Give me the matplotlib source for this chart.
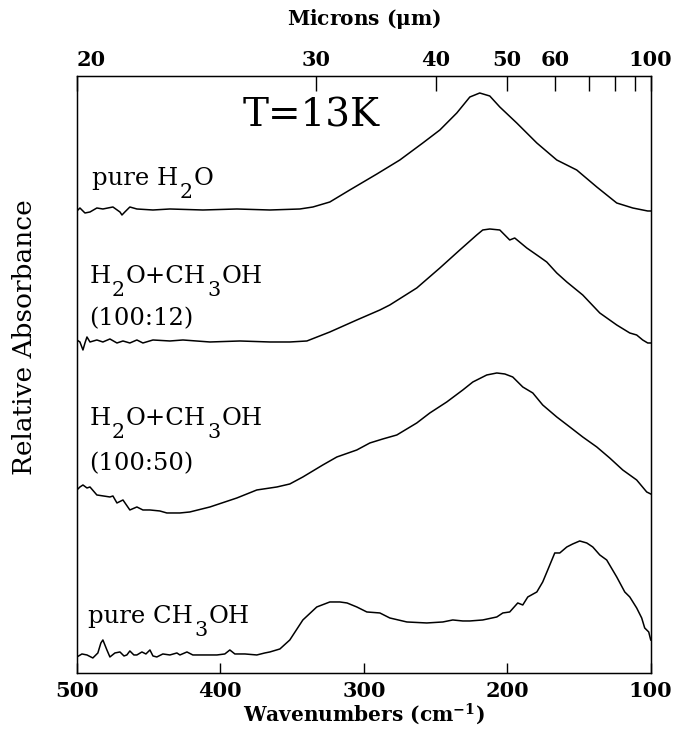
import matplotlib
matplotlib.use("Agg")
import matplotlib.pyplot as plt
from matplotlib.transforms import offset_copy

# ---------------- data ----------------
# wavenumbers (cm^-1) and stacked relative absorbance (arbitrary units)
wn_h2o = [500, 497.9, 494.4, 490.9, 486.1, 481.9, 474.9, 470.0, 468.6, 466.6, 463.1,
          458.2, 447.0, 435.2, 412.2, 388.5, 365.5, 344.6, 335.5, 323.7, 309.8,
          290.9, 274.9, 258.9, 247.0, 235.2, 226.1, 219.2, 212.2, 205.2, 193.4,
          179.4, 165.5, 151.6, 137.6, 123.7, 112.5, 102.1, 100]
ab_h2o = [4.62, 4.65, 4.60, 4.61, 4.65, 4.64, 4.66, 4.61, 4.58, 4.61, 4.66,
          4.64, 4.63, 4.64, 4.63, 4.64, 4.63, 4.64, 4.66, 4.71, 4.83,
          4.99, 5.13, 5.30, 5.43, 5.60, 5.76, 5.80, 5.77, 5.66, 5.50,
          5.30, 5.13, 5.03, 4.86, 4.70, 4.65, 4.62, 4.62]

wn_mix12 = [500, 497.9, 495.8, 494.4, 493.0, 490.9, 486.1, 481.9, 477.0, 472.1,
            467.9, 463.1, 458.2, 454.0, 447.0, 435.2, 426.1, 407.3, 386.4, 365.5,
            351.6, 339.7, 323.7, 304.9, 288.8, 281.9, 263.1, 247.0, 233.1, 221.3,
            217.1, 212.2, 205.2, 198.3, 194.8, 186.4, 177.4, 172.5, 165.5, 158.5,
            147.4, 135.5, 123.7, 114.6, 109.8, 105.6, 102.1, 100]
ab_mix12 = [3.33, 3.31, 3.23, 3.30, 3.36, 3.31, 3.33, 3.31, 3.34, 3.30,
            3.32, 3.30, 3.33, 3.30, 3.33, 3.32, 3.33, 3.31, 3.32, 3.31,
            3.31, 3.32, 3.41, 3.53, 3.63, 3.68, 3.85, 4.05, 4.23, 4.38,
            4.43, 4.44, 4.43, 4.33, 4.35, 4.25, 4.16, 4.11, 4.00, 3.91,
            3.78, 3.60, 3.48, 3.40, 3.38, 3.33, 3.30, 3.30]

wn_mix50 = [500, 497.9, 495.8, 493.0, 490.9, 486.1, 477.0, 474.9, 472.1, 467.9,
            463.1, 458.2, 454.0, 449.1, 442.2, 437.3, 428.2, 421.3, 407.3, 388.5,
            374.6, 360.6, 351.6, 342.5, 328.6, 318.8, 304.9, 295.8, 286.8, 277.0,
            263.1, 254.0, 242.2, 231.0, 224.0, 214.3, 207.3, 201.7, 196.2, 189.2,
            182.2, 175.3, 165.5, 156.4, 147.4, 137.6, 128.6, 119.5, 109.8, 102.8, 100]
ab_mix50 = [1.83, 1.86, 1.88, 1.85, 1.86, 1.78, 1.76, 1.77, 1.70, 1.73,
            1.63, 1.66, 1.63, 1.63, 1.62, 1.60, 1.60, 1.61, 1.66, 1.75,
            1.83, 1.86, 1.89, 1.96, 2.08, 2.16, 2.23, 2.30, 2.34, 2.38,
            2.50, 2.60, 2.71, 2.83, 2.91, 2.98, 3.00, 2.99, 2.96, 2.86,
            2.80, 2.68, 2.56, 2.46, 2.36, 2.26, 2.15, 2.03, 1.93, 1.81, 1.79]

wn_meoh = [500, 496.5, 493.0, 488.9, 485.4, 483.3, 481.9, 480.5, 479.1, 477.0,
           473.5, 470.0, 467.2, 465.2, 463.1, 460.3, 458.2, 454.7, 451.9, 449.1,
           447.0, 444.3, 440.1, 435.2, 430.3, 428.2, 423.3, 419.2, 412.2, 402.4,
           396.9, 393.4, 389.9, 382.9, 374.6, 369.0, 365.5, 358.5, 351.6, 342.5,
           332.8, 323.7, 316.7, 311.7, 304.9, 297.9, 288.8, 281.9, 270.0, 256.1,
           244.9, 238.0, 231.0, 226.1, 217.1, 207.3, 203.1, 198.3, 192.7, 189.2,
           185.7, 179.4, 175.3, 171.8, 166.9, 163.4, 158.5, 154.4, 149.5, 144.6,
           140.4, 135.5, 130.7, 123.7, 118.1, 114.6, 109.8, 106.3, 104.2, 102.8,
           101.4, 100]
ab_meoh = [0.16, 0.19, 0.18, 0.15, 0.20, 0.30, 0.33, 0.28, 0.23, 0.16,
           0.20, 0.21, 0.17, 0.18, 0.22, 0.18, 0.18, 0.21, 0.19, 0.23,
           0.17, 0.16, 0.19, 0.18, 0.20, 0.18, 0.21, 0.18, 0.18, 0.18,
           0.19, 0.23, 0.19, 0.19, 0.18, 0.20, 0.21, 0.24, 0.33, 0.53,
           0.66, 0.71, 0.71, 0.70, 0.66, 0.61, 0.60, 0.55, 0.51, 0.50,
           0.51, 0.53, 0.52, 0.52, 0.53, 0.56, 0.60, 0.61, 0.70, 0.68,
           0.76, 0.81, 0.91, 1.03, 1.20, 1.20, 1.26, 1.29, 1.32, 1.30,
           1.26, 1.18, 1.13, 0.96, 0.81, 0.76, 0.65, 0.55, 0.45, 0.43,
           0.41, 0.33]

bottom_ticks = [500, 400, 300, 200, 100]
micron_ticks = [20, 30, 40, 50, 60, 70, 80, 90, 100]
micron_labels = ["20", "30", "40", "50", "60", "", "", "", "100"]

# ---------------- figure ----------------
plt.rcParams["mathtext.fontset"] = "dejavuserif"
fig = plt.figure(figsize=(6.93, 7.35), dpi=100)
ax = fig.add_axes([0.111, 0.0844, 0.828, 0.8122])

for wn, ab in [(wn_h2o, ab_h2o), (wn_mix12, ab_mix12),
               (wn_mix50, ab_mix50), (wn_meoh, ab_meoh)]:
    ax.plot(wn, ab, color="black", lw=1.1)

ax.set_xlim(500, 100)
ax.set_ylim(0, 5.97)
ax.set_yticks([])
ax.set_xticks(bottom_ticks)
ax.set_xticklabels([str(t) for t in bottom_ticks], fontfamily="DejaVu Serif",
                   fontweight="bold", fontsize=15)
ax.tick_params(axis="x", direction="in", length=7, width=1.0, pad=6)
for s in ax.spines.values():
    s.set_linewidth(1.0)

ax.set_xlabel(r"Wavenumbers (cm$^{\mathbf{-1}}$)", fontfamily="DejaVu Serif",
              fontweight="bold", fontsize=14.5, labelpad=0)
fig.text(25 / 693, 1 - 337 / 735, "Relative Absorbance", rotation=90,
         fontfamily="DejaVu Serif", fontsize=19, ha="center", va="center")

ax2 = ax.twiny()
ax2.set_xlim(ax.get_xlim())
ax2.set_xticks([10000.0 / m for m in micron_ticks])
ax2.set_xticklabels(micron_labels, fontfamily="DejaVu Serif",
                    fontweight="bold", fontsize=15)
ax2.tick_params(axis="x", direction="in", length=11, width=1.0, pad=4)
ax2.get_xticklabels()[0].set_horizontalalignment("left")
ax2.set_xlabel(r"Microns ($\mathbf{\mu}$m)", fontfamily="DejaVu Serif",
               fontweight="bold", fontsize=14.5, labelpad=18)

renderer = fig.canvas.get_renderer()


def chem(x, y, parts, size=17.5):
    """Draw text pieces side by side; pieces flagged True are subscripts."""
    dx = 0.0
    for txt, sub in parts:
        fs = size * 0.85 if sub else size
        dy = -13 if sub else 0
        tr = offset_copy(ax.transData, fig=fig, x=dx, y=dy, units="dots")
        t = ax.text(x, y, txt, fontfamily="DejaVu Serif", fontsize=fs,
                    ha="left", va="baseline", transform=tr)
        dx += t.get_window_extent(renderer).width + 1


mix = [("H", False), ("2", True), ("O+CH", False), ("3", True), ("OH", False)]
chem(489.5, 4.88, [("pure H", False), ("2", True), ("O", False)])
chem(491.0, 3.90, mix)
chem(491.5, 3.48, [("(100:12)", False)])
chem(491.0, 2.48, mix)
chem(491.5, 2.03, [("(100:50)", False)])
chem(492.0, 0.50, [("pure CH", False), ("3", True), ("OH", False)])
ax.text(384.3, 5.46, "T=13K", fontfamily="DejaVu Serif", fontsize=28,
        ha="left", va="baseline")

fig.savefig("out.png", dpi=100)
